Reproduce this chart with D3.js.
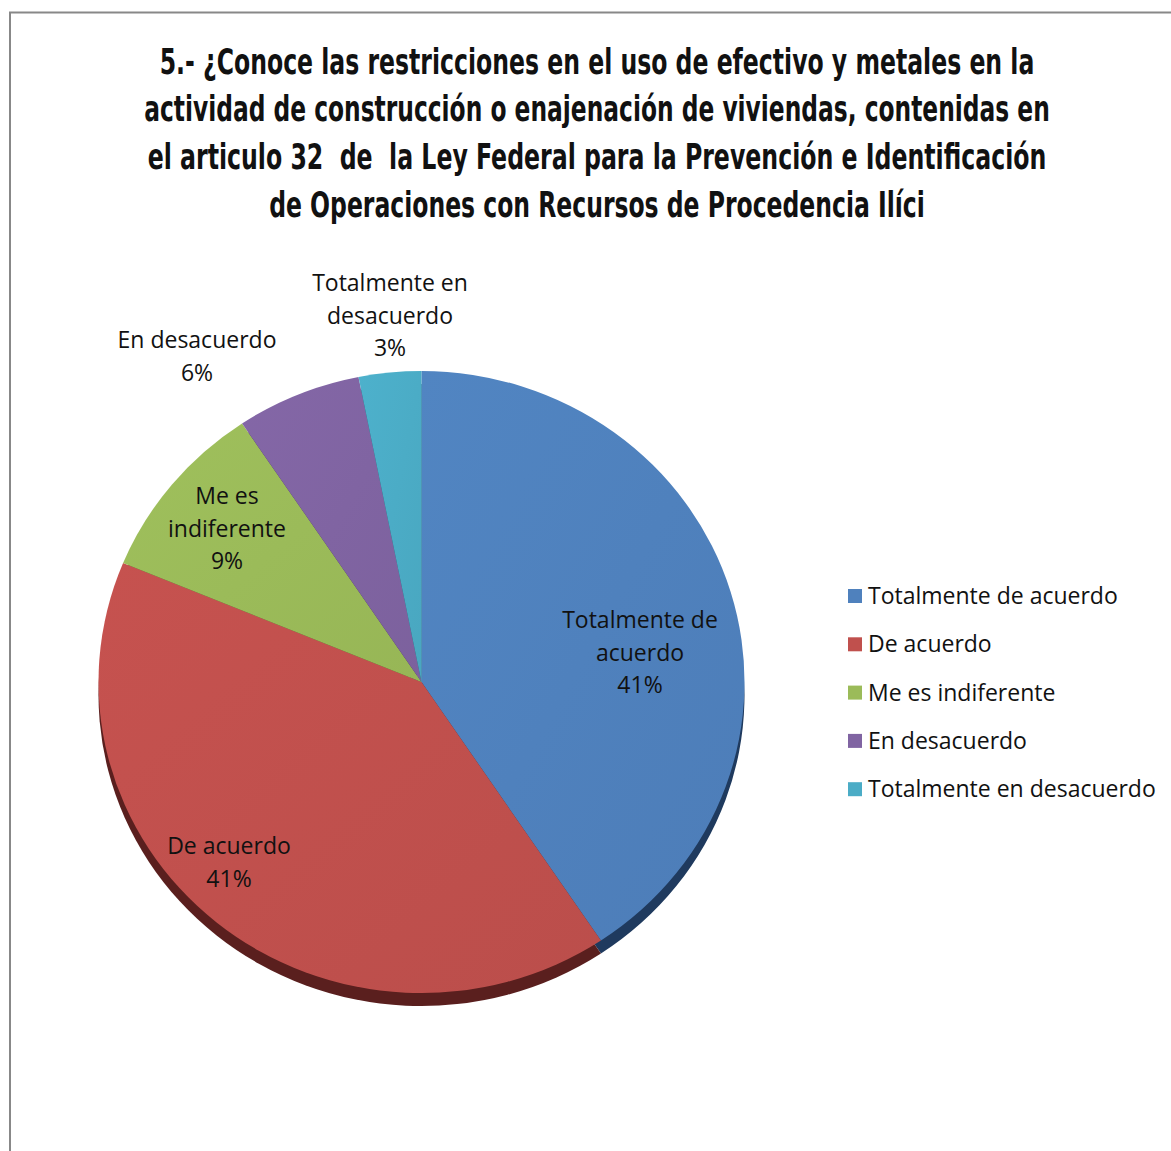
<!DOCTYPE html>
<html>
<head>
<meta charset="utf-8">
<script src="https://cdn.jsdelivr.net/npm/d3@7"></script>
<style>
  html, body { margin: 0; padding: 0; background: #fff; }
  svg { display: block; }
</style>
</head>
<body>
<svg id="chart" width="1171" height="1151"></svg>
<script>
// Survey answers (respondent counts) and their category names
const categories = [
  "Totalmente de acuerdo",
  "De acuerdo",
  "Me es indiferente",
  "En desacuerdo",
  "Totalmente en desacuerdo"
];
const counts = [13, 13, 3, 2, 1];

// Data-label text split across lines, as shown inside/around each slice
const labelLines = [
  ["Totalmente de", "acuerdo"],
  ["De acuerdo"],
  ["Me es", "indiferente"],
  ["En desacuerdo"],
  ["Totalmente en", "desacuerdo"]
];

const titleLines = [
  "5.- ¿Conoce las restricciones en el uso de efectivo y metales en la",
  "actividad de construcción o enajenación de viviendas, contenidas en",
  "el articulo 32  de  la Ley Federal para la Prevención e Identificación",
  "de Operaciones con Recursos de Procedencia Ilíci"
];

const colors = ["#4F81BD", "#C0504D", "#9BBB59", "#8064A2", "#4BACC6"];
const sideColors = ["#1F3A5E", "#5A1F1E", "#4A5C2A", "#3E3052", "#225868"];

// ---- layout ----
const W = 1171, H = 1151;
const cx = 421.5, cy = 682;
const rx = 323, ry = 311;
const depth = 13;
const titleCenter = 597;
const titleWidths = [875, 906, 899, 656];
const titleBase = [74, 121, 169, 217];
const labelAnchors = [[640, 620], [229, 846], [227, 496], [197, 340], [390, 283]];
const labelStep = 32.5;
const labelFont = 23;
const legendX = 848, legendY0 = 596, legendStep = 48.3;

const svg = d3.select("#chart");

// chart frame
svg.append("path")
  .attr("d", `M10,${H + 5} V12.5 H${W + 5}`)
  .attr("fill", "none")
  .attr("stroke", "#888")
  .attr("stroke-width", 2);

// title: each line is squeezed horizontally to the condensed face width
const title = svg.append("g")
  .attr("font-family", "'DejaVu Sans Condensed', 'Liberation Sans Narrow', 'DejaVu Sans', sans-serif")
  .attr("font-stretch", "condensed")
  .attr("font-weight", "bold")
  .attr("font-size", 36)
  .attr("fill", "#111")
  .attr("text-anchor", "middle");
titleLines.forEach((t, i) => {
  const txt = title.append("text")
    .attr("x", 0)
    .attr("y", 0)
    .style("white-space", "pre")
    .text(t);
  const natural = txt.node().getComputedTextLength();
  txt.attr("transform",
    `translate(${titleCenter},${titleBase[i]}) scale(${titleWidths[i] / natural},1)`);
});

// pie geometry
const total = d3.sum(counts);
const pie = d3.pie().sort(null).value(d => d);
const arcs = pie(counts);
const arc = d3.arc().innerRadius(0).outerRadius(rx);

// side (extrusion) drawn below the top face
const side = svg.append("g")
  .attr("transform", `translate(${cx},${cy + depth}) scale(1,${ry / rx})`);
side.selectAll("path")
  .data(arcs)
  .join("path")
  .attr("d", arc)
  .attr("fill", (d, i) => sideColors[i]);

// top face with a light sheen
const defs = svg.append("defs");
colors.forEach((c, i) => {
  const g = defs.append("linearGradient")
    .attr("id", "sheen" + i)
    .attr("x1", "0").attr("y1", "0").attr("x2", "1").attr("y2", "1");
  g.append("stop").attr("offset", "0%").attr("stop-color", d3.color(c).brighter(0.08));
  g.append("stop").attr("offset", "100%").attr("stop-color", d3.color(c).darker(0.08));
});

const face = svg.append("g")
  .attr("transform", `translate(${cx},${cy}) scale(1,${ry / rx})`);
face.selectAll("path")
  .data(arcs)
  .join("path")
  .attr("d", arc)
  .attr("fill", (d, i) => `url(#sheen${i})`);

// data labels
const fmt = d3.format(".0%");
const labels = svg.append("g")
  .attr("font-family", "'Open Sans', 'Noto Sans', sans-serif")
  .attr("font-size", labelFont)
  .attr("fill", "#111")
  .attr("text-anchor", "middle");
arcs.forEach((a, i) => {
  const lines = labelLines[i].concat([fmt(a.data / total)]);
  lines.forEach((t, j) => {
    labels.append("text")
      .attr("x", labelAnchors[i][0])
      .attr("y", labelAnchors[i][1] + j * labelStep)
      .attr("dy", "0.35em")
      .text(t);
  });
});

// legend
const legend = svg.append("g")
  .attr("font-family", "'Open Sans', 'Noto Sans', sans-serif")
  .attr("font-size", labelFont)
  .attr("fill", "#111");
categories.forEach((c, i) => {
  const y = legendY0 + i * legendStep;
  legend.append("rect")
    .attr("x", legendX).attr("y", y - 7)
    .attr("width", 14).attr("height", 14)
    .attr("fill", colors[i]);
  legend.append("text")
    .attr("x", legendX + 20).attr("y", y)
    .attr("dy", "0.35em")
    .text(c);
});
</script>
</body>
</html>
